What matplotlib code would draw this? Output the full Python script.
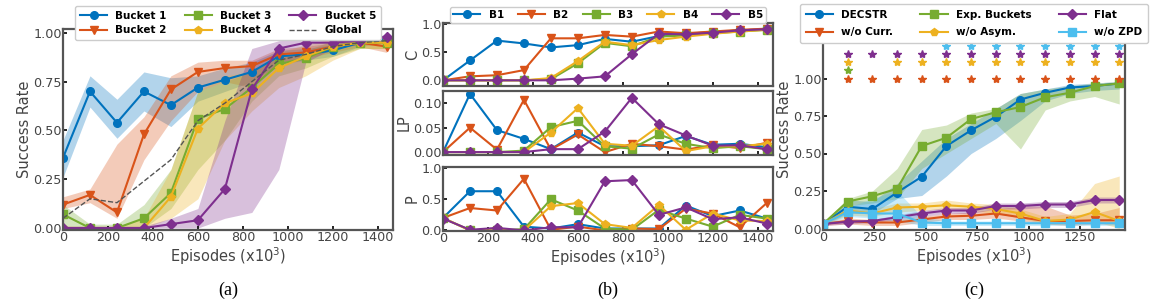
import numpy as np
import matplotlib.pyplot as plt

# episodes (x10^3)
episodes = [0, 120, 240, 360, 480, 600, 720, 840, 960, 1080, 1200, 1320, 1440]

# (a) success rate per bucket
bucket_names = ['Bucket 1', 'Bucket 2', 'Bucket 3', 'Bucket 4', 'Bucket 5']
sr_b1 = [0.36, 0.70, 0.54, 0.70, 0.63, 0.72, 0.76, 0.80, 0.88, 0.89, 0.91, 0.95, 0.97]
sr_b2 = [0.12, 0.17, 0.08, 0.48, 0.71, 0.80, 0.82, 0.83, 0.89, 0.90, 0.93, 0.95, 0.93]
sr_b3 = [0.07, 0.00, 0.00, 0.05, 0.18, 0.56, 0.61, 0.72, 0.84, 0.87, 0.93, 0.95, 0.95]
sr_b4 = [0.00, 0.00, 0.00, 0.00, 0.16, 0.51, 0.64, 0.69, 0.82, 0.88, 0.93, 0.95, 0.95]
sr_b5 = [0.00, 0.00, 0.00, 0.00, 0.02, 0.04, 0.20, 0.71, 0.92, 0.95, 0.95, 0.96, 0.98]
sr_global = [0.05, 0.15, 0.13, 0.24, 0.35, 0.55, 0.64, 0.75, 0.86, 0.89, 0.93, 0.95, 0.96]
lo_b1 = [0.26, 0.62, 0.46, 0.60, 0.52, 0.65, 0.70, 0.75, 0.84, 0.86, 0.88, 0.93, 0.95]
hi_b1 = [0.45, 0.78, 0.66, 0.80, 0.77, 0.78, 0.82, 0.85, 0.91, 0.92, 0.94, 0.97, 0.99]
lo_b2 = [0.10, 0.13, 0.05, 0.35, 0.55, 0.70, 0.75, 0.72, 0.85, 0.87, 0.90, 0.93, 0.90]
hi_b2 = [0.16, 0.20, 0.43, 0.57, 0.78, 0.85, 0.86, 0.86, 0.92, 0.93, 0.95, 0.97, 0.96]
lo_b3 = [0.00, 0.00, 0.00, 0.00, 0.10, 0.30, 0.45, 0.65, 0.78, 0.82, 0.88, 0.92, 0.92]
hi_b3 = [0.12, 0.02, 0.02, 0.12, 0.30, 0.70, 0.75, 0.80, 0.88, 0.91, 0.96, 0.98, 0.98]
lo_b4 = [0.00, 0.00, 0.00, 0.00, 0.05, 0.15, 0.45, 0.60, 0.72, 0.78, 0.86, 0.92, 0.92]
hi_b4 = [0.01, 0.01, 0.01, 0.05, 0.30, 0.70, 0.78, 0.80, 0.90, 0.94, 0.97, 0.98, 0.98]
lo_b5 = [0.00, 0.00, 0.00, 0.00, 0.00, 0.00, 0.05, 0.08, 0.30, 0.85, 0.92, 0.94, 0.96]
hi_b5 = [0.01, 0.01, 0.01, 0.01, 0.05, 0.10, 0.55, 0.92, 0.96, 0.97, 0.97, 0.98, 0.99]

# (b) competence, learning progress, sampling probability
b_names = ['B1', 'B2', 'B3', 'B4', 'B5']
c_vals = [
    [0.00, 0.35, 0.70, 0.65, 0.58, 0.62, 0.73, 0.68, 0.78, 0.82, 0.85, 0.88, 0.90],
    [0.00, 0.07, 0.09, 0.18, 0.74, 0.74, 0.80, 0.77, 0.86, 0.83, 0.86, 0.89, 0.91],
    [0.00, 0.00, 0.00, 0.00, 0.02, 0.30, 0.66, 0.60, 0.77, 0.79, 0.83, 0.86, 0.89],
    [0.00, 0.00, 0.00, 0.00, 0.04, 0.34, 0.68, 0.62, 0.71, 0.77, 0.82, 0.86, 0.89],
    [0.00, 0.00, 0.00, 0.00, 0.00, 0.03, 0.07, 0.46, 0.82, 0.81, 0.84, 0.88, 0.90],
]
lp_vals = [
    [0.000, 0.119, 0.045, 0.027, 0.006, 0.040, 0.012, 0.012, 0.014, 0.033, 0.015, 0.017, 0.010],
    [0.000, 0.050, 0.005, 0.107, 0.005, 0.036, 0.000, 0.017, 0.012, 0.005, 0.014, 0.008, 0.019],
    [0.000, 0.000, 0.000, 0.003, 0.051, 0.064, 0.012, 0.007, 0.036, 0.017, 0.008, 0.012, 0.006],
    [0.000, 0.000, 0.000, 0.000, 0.040, 0.090, 0.017, 0.013, 0.053, 0.002, 0.012, 0.012, 0.017],
    [0.000, 0.000, 0.000, 0.000, 0.006, 0.006, 0.042, 0.111, 0.057, 0.034, 0.013, 0.014, 0.006],
]
p_vals = [
    [0.20, 0.63, 0.63, 0.06, 0.03, 0.10, 0.03, 0.03, 0.03, 0.40, 0.23, 0.32, 0.19],
    [0.20, 0.36, 0.32, 0.83, 0.01, 0.06, 0.00, 0.03, 0.02, 0.35, 0.27, 0.05, 0.44],
    [0.20, 0.00, 0.00, 0.02, 0.50, 0.32, 0.03, 0.01, 0.33, 0.19, 0.06, 0.25, 0.19],
    [0.20, 0.00, 0.00, 0.00, 0.39, 0.44, 0.10, 0.04, 0.41, 0.01, 0.27, 0.16, 0.15],
    [0.19, 0.01, 0.04, 0.00, 0.05, 0.05, 0.79, 0.81, 0.25, 0.37, 0.18, 0.21, 0.11],
]

# (c) ablations
sr_decstr = [0.03, 0.145, 0.13, 0.24, 0.345, 0.55, 0.655, 0.745, 0.86, 0.905, 0.94, 0.95, 0.967]
sr_exp = [0.03, 0.18, 0.215, 0.265, 0.55, 0.605, 0.73, 0.775, 0.81, 0.875, 0.905, 0.95, 0.967]
sr_nocurr = [0.03, 0.05, 0.04, 0.04, 0.06, 0.08, 0.085, 0.10, 0.075, 0.05, 0.05, 0.055, 0.055]
sr_noasym = [0.03, 0.12, 0.10, 0.14, 0.145, 0.155, 0.145, 0.13, 0.10, 0.05, 0.06, 0.11, 0.05]
sr_flat = [0.03, 0.045, 0.05, 0.075, 0.10, 0.12, 0.12, 0.15, 0.15, 0.16, 0.16, 0.19, 0.19]
sr_nozpd = [0.03, 0.11, 0.10, 0.10, 0.04, 0.035, 0.035, 0.035, 0.035, 0.035, 0.035, 0.035, 0.035]
lo_decstr = [0.02, 0.10, 0.10, 0.20, 0.22, 0.35, 0.50, 0.60, 0.72, 0.85, 0.90, 0.92, 0.93]
hi_decstr = [0.04, 0.19, 0.18, 0.30, 0.45, 0.60, 0.70, 0.80, 0.90, 0.93, 0.96, 0.97, 0.98]
lo_exp = [0.02, 0.15, 0.17, 0.20, 0.40, 0.50, 0.60, 0.70, 0.53, 0.79, 0.85, 0.88, 0.83]
hi_exp = [0.04, 0.20, 0.25, 0.40, 0.66, 0.69, 0.77, 0.80, 0.90, 0.93, 0.95, 0.97, 0.98]
lo_nocurr = [0.02, 0.03, 0.02, 0.02, 0.04, 0.06, 0.06, 0.07, 0.05, 0.03, 0.02, 0.03, 0.03]
hi_nocurr = [0.04, 0.07, 0.06, 0.06, 0.08, 0.10, 0.11, 0.13, 0.15, 0.15, 0.09, 0.10, 0.14]
lo_noasym = [0.02, 0.09, 0.08, 0.11, 0.12, 0.13, 0.12, 0.10, 0.07, 0.03, 0.03, 0.05, 0.00]
hi_noasym = [0.04, 0.15, 0.13, 0.17, 0.17, 0.19, 0.17, 0.16, 0.13, 0.08, 0.10, 0.30, 0.35]
lo_flat = [0.02, 0.03, 0.04, 0.06, 0.08, 0.10, 0.10, 0.13, 0.13, 0.14, 0.14, 0.17, 0.17]
hi_flat = [0.04, 0.06, 0.06, 0.09, 0.12, 0.14, 0.14, 0.17, 0.17, 0.18, 0.18, 0.21, 0.21]
lo_nozpd = [0.02, 0.08, 0.07, 0.05, 0.02, 0.02, 0.02, 0.02, 0.02, 0.02, 0.02, 0.02, 0.02]
hi_nozpd = [0.04, 0.14, 0.20, 0.25, 0.08, 0.05, 0.05, 0.05, 0.05, 0.05, 0.05, 0.05, 0.05]
# significance stars: episode positions per method
stars_nocurr = [120, 240, 360, 480, 600, 720, 840, 960, 1080, 1200, 1320, 1440]
stars_exp = [120]
stars_noasym = [120, 360, 480, 600, 720, 840, 960, 1080, 1200, 1320, 1440]
stars_flat = [120, 240, 360, 480, 600, 720, 840, 960, 1080, 1200, 1320, 1440]
stars_nozpd = [600, 720, 840, 960, 1080, 1200, 1320, 1440]

BLUE, ORANGE, YELLOW = '#0072BD', '#D95319', '#EDB120'
PURPLE, GREEN, CYAN = '#7E2F8E', '#77AC30', '#4DBEEE'
bucket_colors = [BLUE, ORANGE, GREEN, YELLOW, PURPLE]
bucket_markers = ['o', 'v', 's', 'p', 'D']
TXT = '#444444'

plt.rcParams['font.family'] = 'DejaVu Sans'

W, H = 1164, 305
fig = plt.figure(figsize=(W / 100, H / 100), dpi=100)


def px_axes(x0, y0, x1, y1):
    return fig.add_axes([x0 / W, 1 - y1 / H, (x1 - x0) / W, (y1 - y0) / H])


def style(ax):
    for s in ax.spines.values():
        s.set_color('#555555')
        s.set_linewidth(1.6)
    ax.tick_params(direction='in', length=3, width=1.2, color='black',
                   labelcolor=TXT, labelsize=9.2, pad=1)
    ax.set_xlim(0, 1468)


lkw = dict(lw=1.5, ms=5.5)
legkw = dict(prop=dict(weight='bold', size=7.5), handlelength=2.6,
             framealpha=1, borderaxespad=0)
LAB = 10.5

# ---- (a)
axa = px_axes(63, 29, 393, 230)
sr_a = [sr_b1, sr_b2, sr_b3, sr_b4, sr_b5]
lo_a = [lo_b1, lo_b2, lo_b3, lo_b4, lo_b5]
hi_a = [hi_b1, hi_b2, hi_b3, hi_b4, hi_b5]
for i in range(5):
    axa.fill_between(episodes, lo_a[i], hi_a[i], color=bucket_colors[i], alpha=0.3, lw=0)
    axa.plot(episodes, sr_a[i], color=bucket_colors[i], marker=bucket_markers[i],
             label=bucket_names[i], **lkw)
axa.plot(episodes, sr_global, '--', color='#555555', lw=1, label='Global')
axa.set_ylim(-0.01, 1.02)
axa.set_yticks([0, 0.25, 0.5, 0.75, 1.0])
axa.set_xticks(range(0, 1401, 200))
style(axa)
axa.set_ylabel('Success Rate', color=TXT, labelpad=1, fontsize=LAB)
axa.set_xlabel('Episodes (x10$^3$)', color=TXT, labelpad=1, fontsize=LAB)
axa.legend(ncol=3, loc='lower center', bbox_to_anchor=(0.5, 0.945),
           columnspacing=1.7, borderpad=0.45, labelspacing=0.45, **legkw)

# ---- (b)
rows = [(23, 86), (91, 155), (167, 231)]
axb = [px_axes(443, r[0], 773, r[1]) for r in rows]
for ax, vals in zip(axb, [c_vals, lp_vals, p_vals]):
    for i in range(5):
        ax.plot(episodes, vals[i], color=bucket_colors[i], marker=bucket_markers[i],
                label=b_names[i], **lkw)
    style(ax)
axb[0].set_ylim(-0.1, 1.01)
axb[0].set_yticks([0, 0.5, 1.0])
axb[0].set_ylabel('C', color=TXT, labelpad=1, fontsize=LAB)
axb[1].set_yticks([0, 0.05, 0.10])
axb[1].set_ylabel('LP', color=TXT, labelpad=1, fontsize=LAB)
axb[2].set_ylim(-0.01, 1.02)
axb[2].set_yticks([0, 0.5, 1.0])
axb[2].set_ylabel('P', color=TXT, labelpad=1, fontsize=LAB)
for ax in axb:
    ax.set_xticks(range(0, 1401, 200))
for ax in axb[:2]:
    ax.tick_params(labelbottom=False)
axb[2].set_xlabel('Episodes (x10$^3$)', color=TXT, labelpad=1, fontsize=LAB)
axb[0].legend(ncol=5, loc='lower center', bbox_to_anchor=(0.5, 1.0),
              columnspacing=1.35, borderpad=0.3, **legkw)

# ---- (c)
axc = px_axes(823, 29, 1125, 230)
c_series = [
    ('DECSTR', sr_decstr, lo_decstr, hi_decstr, BLUE, 'o'),
    ('w/o Curr.', sr_nocurr, lo_nocurr, hi_nocurr, ORANGE, 'v'),
    ('Exp. Buckets', sr_exp, lo_exp, hi_exp, GREEN, 's'),
    ('w/o Asym.', sr_noasym, lo_noasym, hi_noasym, YELLOW, 'p'),
    ('Flat', sr_flat, lo_flat, hi_flat, PURPLE, 'D'),
    ('w/o ZPD', sr_nozpd, lo_nozpd, hi_nozpd, CYAN, 's'),
]
for name, m, lo, hi, col, mk in c_series:
    axc.fill_between(episodes, lo, hi, color=col, alpha=0.3, lw=0)
    axc.plot(episodes, m, color=col, marker=mk, label=name, **lkw)
star_sets = [(stars_nocurr, 1.0, ORANGE), (stars_exp, 1.055, GREEN),
             (stars_noasym, 1.11, YELLOW), (stars_flat, 1.165, PURPLE),
             (stars_nozpd, 1.22, CYAN)]
for xs, yv, col in star_sets:
    axc.plot(xs, [yv] * len(xs), '*', color=col, ms=6, ls='none')
axc.set_ylim(-0.01, 1.33)
axc.set_yticks([0, 0.25, 0.5, 0.75, 1.0])
axc.set_xticks(range(0, 1251, 250))
style(axc)
axc.set_ylabel('Success Rate', color=TXT, labelpad=1, fontsize=LAB)
axc.set_xlabel('Episodes (x10$^3$)', color=TXT, labelpad=1, fontsize=LAB)
axc.legend(ncol=3, loc='lower center', bbox_to_anchor=(0.5, 0.93),
           columnspacing=2.6, borderpad=0.55, labelspacing=0.7, **legkw)

for x, t in [(228, '(a)'), (608, '(b)'), (974, '(c)')]:
    fig.text(x / W, 1 - 290 / H, t, ha='center', va='center',
             family='Liberation Serif', fontsize=13)

fig.savefig('out.png', dpi=100)
